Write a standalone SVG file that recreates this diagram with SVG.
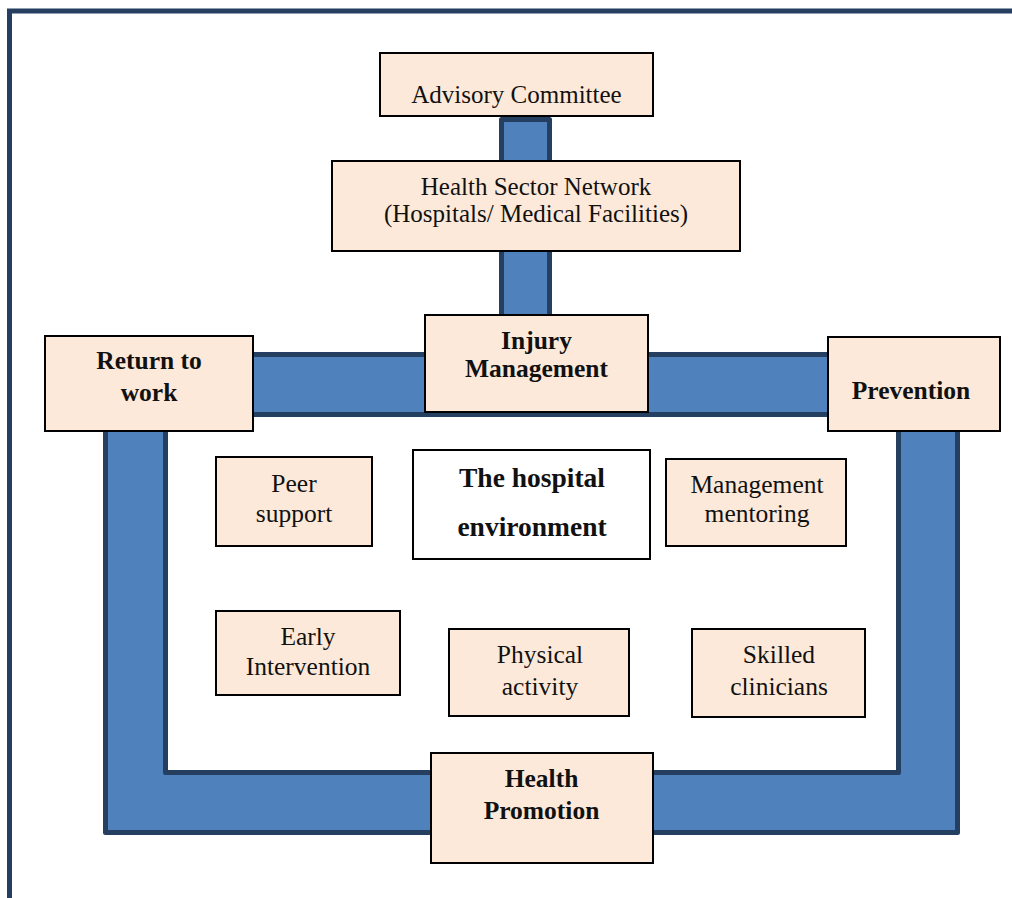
<svg xmlns="http://www.w3.org/2000/svg" width="1012" height="898" viewBox="0 0 1012 898">
<style>
.box{fill:#FDE9D9;stroke:#000;stroke-width:2}
.wbox{fill:#fff;stroke:#000;stroke-width:2}
.band{fill:#4F81BD;stroke:#243F60;stroke-width:5;stroke-linejoin:round}
.t{font-family:"Liberation Serif","Times New Roman",serif;font-size:25px;fill:#111;text-anchor:middle}
.ti{font-family:"Liberation Serif","Times New Roman",serif;font-size:25.5px;fill:#111;text-anchor:middle}
.b{font-family:"Liberation Serif","Times New Roman",serif;font-size:25.5px;font-weight:bold;fill:#111;text-anchor:middle}
.bh{font-family:"Liberation Serif","Times New Roman",serif;font-size:27.5px;font-weight:bold;fill:#111;text-anchor:middle}
</style>
<rect width="1012" height="898" fill="#fff"/>
<path d="M9.5,898 V11 H1012" fill="none" stroke="#243F60" stroke-width="5"/>
<g id="connectors">
<rect class="band" x="501.5" y="119.5" width="48" height="210"/>
<path class="band" fill-rule="evenodd" d="M105.5,354.5 H957.5 V832.5 H105.5 Z M165.5,414.5 V772.5 H898.5 V414.5 Z"/>
</g>
<g id="advisory">
<rect class="box" x="380" y="53" width="273" height="63"/>
<text class="t" x="516.5" y="103">Advisory Committee</text>
</g>
<g id="network">
<rect class="box" x="332" y="161" width="408" height="90"/>
<text class="t" x="536" y="195">Health Sector Network</text>
<text class="t" x="536" y="222">(Hospitals/ Medical Facilities)</text>
</g>
<g id="injury">
<rect class="box" x="425" y="315" width="223" height="97"/>
<text class="b" x="536.5" y="349">Injury</text>
<text class="b" x="536.5" y="377">Management</text>
</g>
<g id="return">
<rect class="box" x="45" y="336" width="208" height="95"/>
<text class="b" x="149" y="369">Return to</text>
<text class="b" x="149" y="401">work</text>
</g>
<g id="prevention">
<rect class="box" x="828" y="337" width="172" height="94"/>
<text class="b" x="911" y="399">Prevention</text>
</g>
<g id="promotion">
<rect class="box" x="431" y="753" width="222" height="110"/>
<text class="b" x="541.5" y="787">Health</text>
<text class="b" x="541.5" y="819">Promotion</text>
</g>
<g id="peer">
<rect class="box" x="216" y="457" width="156" height="89"/>
<text class="ti" x="294" y="492">Peer</text>
<text class="ti" x="294" y="522">support</text>
</g>
<g id="hospital">
<rect class="wbox" x="413" y="450" width="237" height="109"/>
<text class="bh" x="532" y="487">The hospital</text>
<text class="bh" x="532" y="536">environment</text>
</g>
<g id="mentoring">
<rect class="box" x="666" y="459" width="180" height="87"/>
<text class="ti" x="757" y="493">Management</text>
<text class="ti" x="757" y="522">mentoring</text>
</g>
<g id="early">
<rect class="box" x="216" y="611" width="184" height="84"/>
<text class="ti" x="308" y="645">Early</text>
<text class="ti" x="308" y="675">Intervention</text>
</g>
<g id="physical">
<rect class="box" x="449" y="629" width="180" height="87"/>
<text class="ti" x="540" y="663">Physical</text>
<text class="ti" x="540" y="695">activity</text>
</g>
<g id="skilled">
<rect class="box" x="692" y="629" width="173" height="88"/>
<text class="ti" x="779" y="663">Skilled</text>
<text class="ti" x="779" y="695">clinicians</text>
</g>
</svg>
